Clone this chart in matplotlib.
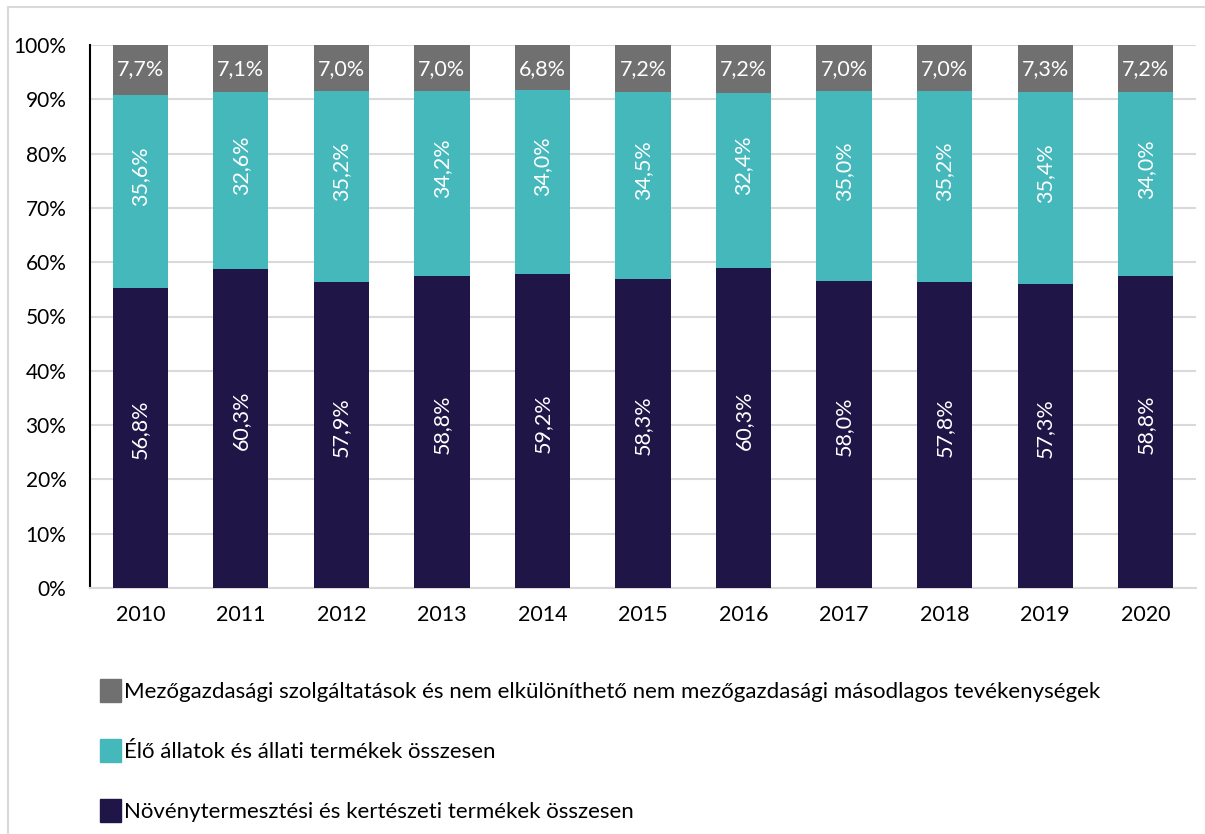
import matplotlib
matplotlib.use("Agg")
import matplotlib.pyplot as plt
from matplotlib.patches import Rectangle, Patch
import numpy as np

plt.rcParams['font.family'] = ['Lato', 'DejaVu Sans']

years = ['2010', '2011', '2012', '2013', '2014', '2015', '2016', '2017', '2018', '2019', '2020']

# bar segment heights (share of 100%) as drawn
noveny_bar = [55.3, 58.8, 56.4, 57.4, 57.8, 56.9, 58.9, 56.6, 56.4, 55.9, 57.4]
allat_bar = [35.5, 32.55, 35.2, 34.1, 34.0, 34.4, 32.3, 34.9, 35.2, 35.4, 34.0]
szolg_bar = [9.2, 8.65, 8.4, 8.5, 8.2, 8.7, 8.8, 8.5, 8.4, 8.7, 8.6]

# data label values printed on the bars
noveny_lbl = [56.8, 60.3, 57.9, 58.8, 59.2, 58.3, 60.3, 58.0, 57.8, 57.3, 58.8]
allat_lbl = [35.6, 32.6, 35.2, 34.2, 34.0, 34.5, 32.4, 35.0, 35.2, 35.4, 34.0]
szolg_lbl = [7.7, 7.1, 7.0, 7.0, 6.8, 7.2, 7.2, 7.0, 7.0, 7.3, 7.2]

legend_labels = [
    'Mezőgazdasági szolgáltatások és nem elkülöníthető nem mezőgazdasági másodlagos tevékenységek',
    'Élő állatok és állati termékek összesen',
    'Növénytermesztési és kertészeti termékek összesen',
]
c_dark = '#201547'
c_teal = '#45B8BC'
c_gray = '#707070'

def fmt(v):
    return f'{v:.1f}%'.replace('.', ',')

fig = plt.figure(figsize=(12.05, 8.34), dpi=100)
# chart border
fig.patches.append(Rectangle((8/1205, -0.1), 1.2, 1.1 - 7/834, transform=fig.transFigure,
                             fill=False, edgecolor='#d9d9d9', linewidth=1.5))
ax = fig.add_axes([90/1205, 1 - 588/834, (1196 - 90)/1205, (588 - 45)/834])

x = np.arange(len(years))
w = 0.55
d = np.array(noveny_bar)
t = np.array(allat_bar)
g = np.array(szolg_bar)
ax.bar(x, d, w, color=c_dark, zorder=3)
ax.bar(x, t, w, bottom=d, color=c_teal, zorder=3)
ax.bar(x, g, w, bottom=d + t, color=c_gray, zorder=3)

fs = 15.5
for i in range(len(years)):
    ax.text(x[i], d[i] / 2 + 1.5, fmt(noveny_lbl[i]), rotation=90, ha='center', va='center',
            color='white', fontsize=fs, zorder=4)
    ax.text(x[i], d[i] + t[i] / 2 + 2.8, fmt(allat_lbl[i]), rotation=90, ha='center', va='center',
            color='white', fontsize=fs, zorder=4)
    ax.text(x[i], 95.6, fmt(szolg_lbl[i]), ha='center', va='center',
            color='white', fontsize=fs, zorder=4)

ax.set_xlim(-0.5, len(years) - 0.5)
ax.set_ylim(0, 100)
ax.set_yticks(np.arange(0, 101, 10))
ax.set_yticklabels([f'{v}%' for v in range(0, 101, 10)], fontsize=15)
ax.set_xticks(x)
ax.set_xticklabels(years, fontsize=fs)
ax.tick_params(axis='x', length=0, pad=12)
ax.tick_params(axis='y', length=0, pad=17)
ax.grid(axis='y', color='#d9d9d9', linewidth=1.5, zorder=0)
for s in ['top', 'right']:
    ax.spines[s].set_visible(False)
ax.spines['left'].set_color('black')
ax.spines['left'].set_linewidth(1.5)
ax.spines['bottom'].set_color('#d9d9d9')
ax.spines['bottom'].set_linewidth(1.5)

handles = [Patch(color=c_gray), Patch(color=c_teal), Patch(color=c_dark)]
fig.legend(handles, legend_labels, loc='upper left', bbox_to_anchor=(91/1205, 1 - 670/834),
           frameon=False, fontsize=16, handlelength=0.95, handleheight=1.2,
           handletextpad=0.12, labelspacing=1.68, borderaxespad=0)

fig.savefig('out.png', dpi=100)
